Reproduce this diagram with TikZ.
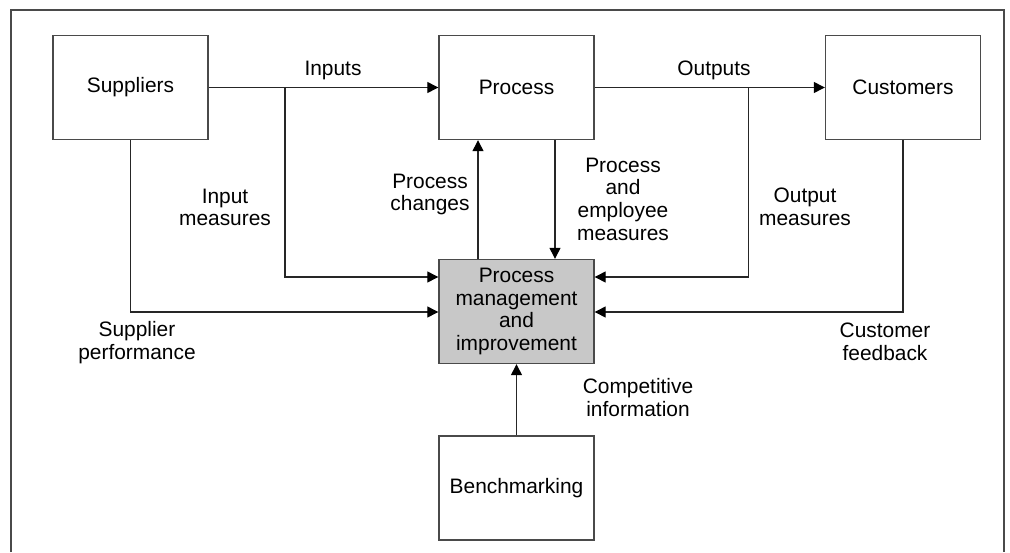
\documentclass[tikz,border=0pt]{standalone}
\usepackage{fontspec}
\setmainfont{Liberation Sans}
\usetikzlibrary{arrows.meta}
\definecolor{linegray}{HTML}{262626}
\definecolor{boxline}{HTML}{4A4A4A}
\definecolor{boxfill}{HTML}{C8C8C8}
\begin{document}
\begin{tikzpicture}[x=1pt,y=-1pt,
  every node/.style={font=\fontsize{20.9}{22.7}\selectfont},
  block/.style={draw=boxline, line width=1.4pt, minimum width=155pt, minimum height=104pt, inner sep=0pt, align=center},
  keyblock/.style={block, fill=boxfill},
  lbl/.style={align=center, inner sep=0pt},
  wire/.style={draw=linegray, line width=1.3pt},
  arr/.style={wire, -{Triangle[length=11pt,width=11pt,fill=black,color=black]}}]
  \useasboundingbox (0,0) rectangle (1010,552);
  % frame, open at the bottom
  \draw[boxline, line width=1.4pt] (11,552) -- (11,10) -- (1004,10) -- (1004,552);

  % blocks
  \node[block] (sup)   at (130.5,87.5) {Suppliers};
  \node[block] (proc)  at (516.5,87.5) {Process};
  \node[block] (cust)  at (903,87.5) {Customers};
  \node[keyblock] (pmi) at (516.5,311.5) {Process\\management\\and\\improvement};
  \node[block] (bench) at (516.5,488) {Benchmarking};

  % helper levels and columns
  \coordinate (inj)  at (285,87.5);
  \coordinate (outj) at (748.5,87.5);
  \coordinate (rowA) at (0,277);
  \coordinate (rowB) at (0,312);
  \coordinate (colA) at (478,0);
  \coordinate (colB) at (555,0);

  % main flow
  \draw[arr] (sup.east) -- (proc.west);
  \draw[arr] (proc.east) -- (cust.west);

  % measures into process management
  \draw[arr] (inj) |- (pmi.west |- rowA);
  \draw[arr] (sup.south) |- (pmi.west |- rowB);
  \draw[arr] (outj) |- (pmi.east |- rowA);
  \draw[arr] (cust.south) |- (pmi.east |- rowB);

  % between process and its management
  \draw[arr] (pmi.north -| colA) -- (proc.south -| colA);
  \draw[arr] (proc.south -| colB) -- (pmi.north -| colB);
  \draw[arr] (bench.north) -- (pmi.south);

  % labels
  \node[lbl] (lin)   at (333,70)  {Inputs};
  \node[lbl] (lout)  at (714,70)  {Outputs};
  \node[lbl] (linm)  at (225,207.5) {Input\\measures};
  \node[lbl] (lsup)  at (137,342.5) {Supplier\\performance};
  \node[lbl] (lchg)  at (430,194.5) {Process\\changes};
  \node[lbl] (lemp)  at (623,199)   {Process\\and\\employee\\measures};
  \node[lbl] (loutm) at (805,206.5) {Output\\measures};
  \node[lbl] (lcust) at (885,341.5) {Customer\\feedback};
  \node[lbl] (lcomp) at (638,397.5) {Competitive\\information};
\end{tikzpicture}
\end{document}
